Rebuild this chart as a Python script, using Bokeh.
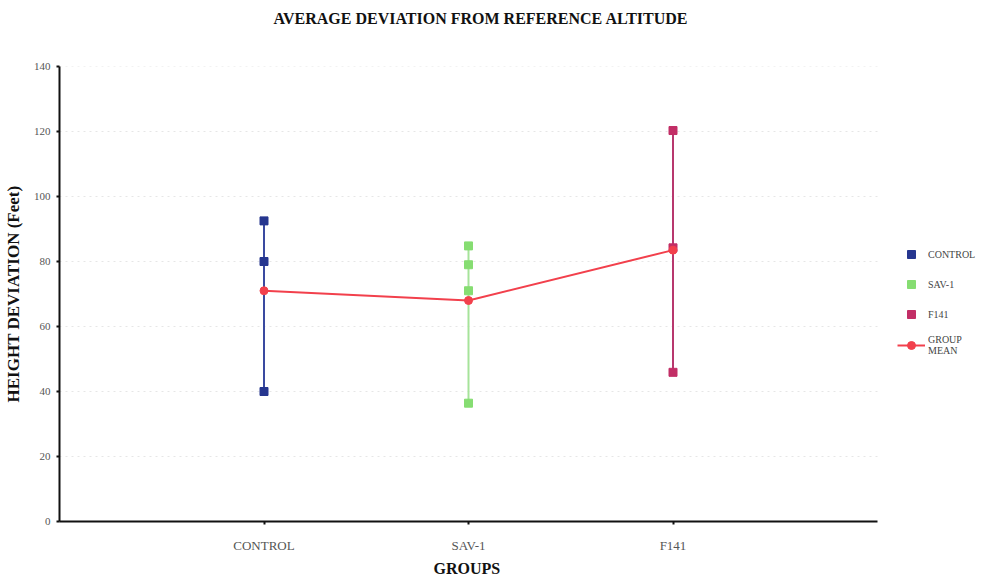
from bokeh.plotting import figure
from bokeh.models import FixedTicker, Legend, LegendItem, Range1d, Title
from bokeh.embed import file_html
from bokeh.resources import INLINE

# ---- data ----
groups = ["CONTROL", "SAV-1", "F141"]
group_pos = [1, 2, 3]
control_vals = [92.5, 80.0, 40.0]
sav1_vals = [84.8, 79.0, 71.0, 36.4]
f141_vals = [120.3, 84.2, 45.9]
group_means = [71.0, 68.0, 83.5]
y_ticks = [0, 20, 40, 60, 80, 100, 120, 140]
title_text = "AVERAGE DEVIATION FROM REFERENCE ALTITUDE"
x_label = "GROUPS"
y_label = "HEIGHT DEVIATION (Feet)"

colors = ["#26368f", "#86dd72", "#c22e66"]
line_colors = ["#3a4aa0", "#a6e39a", "#b8386e"]
mean_color = "#f2404c"

FONT = "Liberation Serif"

# layout: axis occupies 818px for x in [0, 4]; frame extended right to hold the legend
AXIS_PX = 818
FRAME_W = 918
X_END = 4 * FRAME_W / AXIS_PX

p = figure(frame_width=FRAME_W, frame_height=455, output_backend="svg", toolbar_location=None,
           x_range=Range1d(0, X_END), y_range=Range1d(0, 140), title=None,
           min_border_left=58, min_border_right=0, min_border_top=0, min_border_bottom=0)

# spacer between title and frame (closest to frame), the title, then a small top spacer
spacer = Title(text=" ", text_font_size="1px", standoff=36)
p.add_layout(spacer, "above")
main_title = Title(text=title_text, align="left", offset=214, text_font=FONT,
                   text_font_size="16px", text_font_style="bold", text_color="#111111",
                   standoff=2)
p.add_layout(main_title, "above")
spacer_top = Title(text=" ", text_font_size="1px", standoff=3)
p.add_layout(spacer_top, "above")

p.outline_line_color = None
p.background_fill_color = "white"
p.border_fill_color = "white"

# axes
p.xaxis.ticker = FixedTicker(ticks=group_pos)
p.xaxis.major_label_overrides = {pos: g for pos, g in zip(group_pos, groups)}
p.xaxis.bounds = (0, 4)
p.yaxis.ticker = FixedTicker(ticks=y_ticks)
for ax in (p.xaxis, p.yaxis):
    ax.axis_line_color = "#111111"
    ax.axis_line_width = 2
    ax.major_tick_line_color = "#111111"
    ax.major_tick_line_width = 2
    ax.major_tick_out = 3
    ax.major_tick_in = 0
    ax.minor_tick_line_color = None
    ax.major_label_text_font = FONT
    ax.major_label_text_font_size = "11px"
    ax.major_label_text_color = "#555555"
    ax.axis_label_text_font = FONT
    ax.axis_label_text_font_style = "bold"
    ax.axis_label_text_font_size = "17px"
    ax.axis_label_text_color = "#111111"
p.xaxis.major_label_text_font_size = "13px"
p.yaxis.axis_label = y_label
p.xaxis.major_label_standoff = 13
p.yaxis.major_label_standoff = 6
p.yaxis.axis_label_standoff = 8

# x axis title, centred under the axis extent (not the extended frame)
x_title = Title(text=x_label, align="left", offset=374, text_font=FONT,
                text_font_size="16px", text_font_style="bold", text_color="#111111",
                standoff=4)
p.add_layout(x_title, "below")

p.xgrid.grid_line_color = None
p.ygrid.grid_line_color = None
# faint horizontal gridlines limited to the axis extent
grid_y = y_ticks[1:]
p.segment(x0=[0] * len(grid_y), y0=grid_y, x1=[4] * len(grid_y), y1=grid_y,
          line_color="#e6e6e6", line_width=1, line_dash="2 4")

# group ranges + points
all_vals = [control_vals, sav1_vals, f141_vals]
square_renderers = []
for pos, vals, c, lc in zip(group_pos, all_vals, colors, line_colors):
    p.segment(x0=[pos], y0=[min(vals)], x1=[pos], y1=[max(vals)], line_color=lc, line_width=2)
    r = p.scatter(x=[pos] * len(vals), y=vals, marker="square", size=8,
                  fill_color=c, line_color=c)
    square_renderers.append(r)

# group mean line
ml = p.line(x=group_pos, y=group_means, line_color=mean_color, line_width=2)
mc = p.scatter(x=group_pos, y=group_means, marker="circle", size=8,
               fill_color=mean_color, line_color=mean_color)

items = [LegendItem(label=g, renderers=[r]) for g, r in zip(groups, square_renderers)]
items.append(LegendItem(label="GROUP\nMEAN", renderers=[ml, mc]))
legend = Legend(items=items, location=(838, 165))
legend.label_text_font = FONT
legend.label_text_font_size = "10px"
legend.label_text_line_height = 1.4
legend.label_text_color = "#444444"
legend.border_line_color = None
legend.background_fill_alpha = 0
legend.spacing = 10
legend.glyph_width = 28
legend.label_standoff = 3
legend.padding = 4
legend.margin = 0
p.add_layout(legend)

open("out.html", "w").write(file_html(p, INLINE))
